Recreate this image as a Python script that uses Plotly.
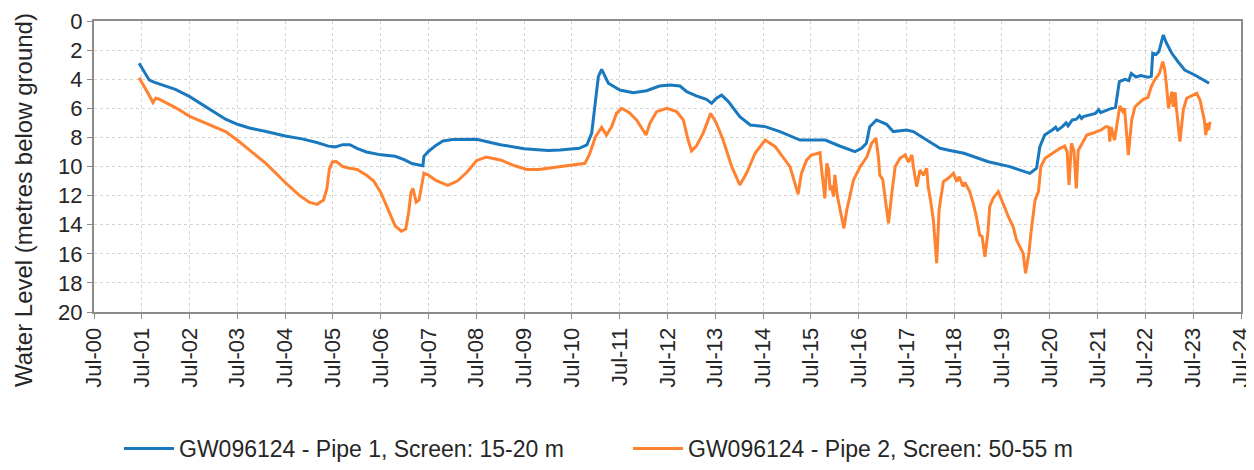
import pandas as pd
import plotly.graph_objects as go

# ---- data (decimal years, water level in metres below ground) ----
pipe1_years = [
    2001.44, 2001.55, 2001.65, 2001.75, 2002.0, 2002.2, 2002.5, 2002.75, 2003.0, 2003.25,
    2003.5, 2003.75, 2004.1, 2004.5, 2004.85, 2005.16, 2005.4, 2005.55, 2005.7, 2005.85,
    2006.0, 2006.2, 2006.5, 2006.8, 2007.0, 2007.15, 2007.3, 2007.38, 2007.4, 2007.5,
    2007.65, 2007.8, 2008.0, 2008.5, 2009.0, 2009.5, 2010.0, 2010.25, 2010.65, 2010.81,
    2010.91, 2010.98, 2011.05, 2011.12, 2011.19, 2011.26, 2011.5, 2011.78, 2012.06, 2012.33,
    2012.55, 2012.76, 2012.9, 2013.1, 2013.31, 2013.42, 2013.52, 2013.63, 2013.77, 2014.01,
    2014.23, 2014.54, 2014.85, 2015.13, 2015.27, 2015.55, 2015.8, 2016.1, 2016.42, 2016.56,
    2016.66, 2016.73, 2016.87, 2017.08, 2017.22, 2017.5, 2017.64, 2017.92, 2018.2, 2018.41,
    2018.7, 2019.21, 2019.66, 2020.08, 2020.22, 2020.29, 2020.39, 2020.55, 2020.62, 2020.66,
    2020.76, 2020.84, 2020.88, 2020.97, 2021.05, 2021.12, 2021.16, 2021.2, 2021.45, 2021.52,
    2021.56, 2021.73, 2021.87, 2021.95, 2022.07, 2022.15, 2022.2, 2022.3, 2022.4, 2022.55,
    2022.62, 2022.65, 2022.72, 2022.78, 2022.87, 2022.94, 2023.05, 2023.18, 2023.32, 2023.53,
    2023.7, 2023.83,
]
pipe1_levels = [
    2.9, 3.5, 4.05, 4.2, 4.45, 4.7, 5.2, 5.7, 6.25, 6.75,
    7.1, 7.35, 7.6, 7.9, 8.1, 8.35, 8.6, 8.65, 8.5, 8.5,
    8.75, 9.0, 9.2, 9.3, 9.55, 9.8, 9.9, 9.95, 9.3, 8.95,
    8.55, 8.25, 8.15, 8.13, 8.5, 8.78, 8.9, 8.87, 8.75, 8.52,
    7.72, 5.66, 3.83, 3.32, 3.83, 4.28, 4.74, 4.93, 4.79, 4.47,
    4.4, 4.47, 4.86, 5.15, 5.38, 5.66, 5.31, 5.09, 5.54, 6.58,
    7.15, 7.26, 7.6, 7.95, 8.18, 8.18, 8.18, 8.59, 8.98, 8.75,
    8.41, 7.26, 6.8, 7.1, 7.6, 7.49, 7.6, 8.18, 8.75, 8.9,
    9.09, 9.67, 10.01, 10.47, 10.12, 8.64, 7.84, 7.49, 7.3, 7.5,
    7.26, 7.0, 7.2, 6.8, 6.75, 6.5, 6.7, 6.57, 6.35, 6.1,
    6.3, 6.07, 5.93, 4.17, 4.01, 4.1, 3.6, 3.85, 3.75, 3.87,
    3.8, 2.22, 2.3, 2.1, 0.96, 1.53, 2.22, 2.8, 3.37, 3.71,
    4.01, 4.28,
]

pipe2_years = [
    2001.44, 2001.55, 2001.65, 2001.73, 2001.79, 2001.85, 2002.0, 2002.2, 2002.5, 2002.75,
    2003.0, 2003.25, 2003.5, 2003.8, 2004.1, 2004.5, 2004.8, 2005.0, 2005.16, 2005.3,
    2005.37, 2005.42, 2005.48, 2005.56, 2005.7, 2005.82, 2006.0, 2006.2, 2006.35, 2006.5,
    2006.65, 2006.8, 2006.93, 2007.02, 2007.08, 2007.13, 2007.17, 2007.2, 2007.24, 2007.3,
    2007.36, 2007.4, 2007.5, 2007.65, 2007.9, 2008.1, 2008.3, 2008.5, 2008.7, 2009.0,
    2009.3, 2009.55, 2009.8, 2010.25, 2010.5, 2010.77, 2010.86, 2010.99, 2011.12, 2011.22,
    2011.33, 2011.43, 2011.54, 2011.7, 2011.85, 2011.95, 2012.05, 2012.13, 2012.27, 2012.48,
    2012.69, 2012.83, 2012.93, 2013.0, 2013.1, 2013.24, 2013.4, 2013.52, 2013.66, 2013.84,
    2014.01, 2014.15, 2014.33, 2014.54, 2014.75, 2015.06, 2015.23, 2015.3, 2015.41, 2015.51,
    2015.69, 2015.7, 2015.75, 2015.79, 2015.83, 2015.87, 2015.9, 2015.93, 2015.97, 2016.0,
    2016.05, 2016.19, 2016.25, 2016.32, 2016.39, 2016.53, 2016.67, 2016.77, 2016.86, 2016.91,
    2016.94, 2017.0, 2017.08, 2017.12, 2017.19, 2017.26, 2017.36, 2017.47, 2017.54, 2017.61,
    2017.64, 2017.71, 2017.78, 2017.85, 2017.92, 2017.95, 2018.0, 2018.06, 2018.13, 2018.18,
    2018.22, 2018.27, 2018.37, 2018.48, 2018.55, 2018.6, 2018.68, 2018.72, 2018.82, 2018.9,
    2018.96, 2019.03, 2019.08, 2019.14, 2019.2, 2019.24, 2019.31, 2019.42, 2019.49, 2019.56,
    2019.63, 2019.73, 2019.8, 2019.87, 2019.94, 2019.99, 2020.06, 2020.11, 2020.19, 2020.26,
    2020.31, 2020.4, 2020.5, 2020.71, 2020.81, 2020.86, 2020.9, 2020.95, 2021.0, 2021.05,
    2021.09, 2021.17, 2021.27, 2021.4, 2021.57, 2021.67, 2021.73, 2021.75, 2021.78, 2021.85,
    2021.91, 2021.96, 2022.02, 2022.06, 2022.14, 2022.21, 2022.28, 2022.45, 2022.55, 2022.62,
    2022.69, 2022.79, 2022.86, 2022.9, 2022.94, 2022.98, 2023.05, 2023.08, 2023.12, 2023.15,
    2023.22, 2023.29, 2023.36, 2023.5, 2023.57, 2023.64, 2023.67, 2023.73, 2023.76, 2023.8,
    2023.82, 2023.85,
]
pipe2_levels = [
    3.9, 4.5, 5.1, 5.6, 5.3, 5.35, 5.6, 5.95, 6.55, 6.9,
    7.2, 7.6, 8.2, 9.0, 9.8, 11.1, 12.0, 12.45, 12.6, 12.3,
    11.5, 10.2, 9.7, 9.65, 10.0, 10.1, 10.2, 10.6, 11.0, 11.8,
    12.9, 14.1, 14.45, 14.3, 13.2, 11.8, 11.5, 12.0, 12.45, 12.3,
    11.0, 10.45, 10.6, 10.95, 11.3, 11.0, 10.4, 9.6, 9.35, 9.55,
    9.95, 10.2, 10.2, 10.0, 9.9, 9.78, 9.2, 7.95, 7.31, 7.84,
    7.26, 6.35, 6.0, 6.3, 6.8, 7.37, 7.84, 7.03, 6.23, 6.0,
    6.23, 6.8, 8.18, 8.93, 8.6, 7.72, 6.35, 7.03, 8.18, 10.01,
    11.27, 10.47, 9.09, 8.18, 8.64, 10.01, 11.9, 10.47, 9.55, 9.21,
    9.05, 9.55, 10.8, 12.19, 9.78, 10.2, 11.62, 11.3, 12.07, 10.58,
    12.0, 14.25, 12.99, 11.84, 10.93, 10.01, 9.33, 8.4, 8.06, 9.33,
    10.58, 10.9, 12.99, 13.9, 11.84, 10.01, 9.44, 9.21, 9.7, 9.21,
    10.0, 11.38, 10.24, 10.6, 10.12, 11.38, 12.3, 13.68, 16.65, 13.0,
    12.07, 11.04, 10.81, 10.47, 11.04, 10.7, 11.38, 11.1, 11.73, 12.6,
    13.45, 14.71, 14.8, 16.2, 14.59, 12.76, 12.19, 11.73, 12.3, 12.9,
    13.45, 14.14, 15.05, 15.51, 15.97, 17.34, 15.97, 14.36, 12.3, 11.73,
    10.01, 9.44, 9.21, 8.75, 8.6, 9.0, 11.27, 8.4, 8.9, 11.5,
    8.9, 8.4, 7.84, 7.7, 7.49, 7.26, 7.3, 8.29, 7.3, 8.18,
    6.69, 5.84, 6.2, 6.0, 9.21, 6.8, 5.89, 5.38, 5.25, 4.51,
    4.05, 3.6, 2.8, 3.3, 4.51, 6.0, 4.86, 5.9, 4.9, 6.12,
    8.29, 6.12, 5.31, 5.09, 4.97, 5.43, 5.9, 6.8, 7.84, 7.03,
    7.5, 6.92,
]

y_ticks = [0, 2, 4, 6, 8, 10, 12, 14, 16, 18, 20]
series_names = ["GW096124 - Pipe 1, Screen: 15-20 m", "GW096124 - Pipe 2, Screen: 50-55 m"]
y_title = "Water Level (metres below ground)"


def to_dates(decimal_years):
    out = []
    for d in decimal_years:
        yr = int(d)
        start = pd.Timestamp(year=yr, month=1, day=1)
        out.append(start + pd.Timedelta(days=(d - yr) * 365.25))
    return out


FONT = "Liberation Sans, Arial, sans-serif"
TXT = "#262626"
AXIS = "#8c8c8c"

# page body has an 8px default margin -> figure is sized/offset to compensate
W, H = 1246, 462

fig = go.Figure()
fig.add_trace(go.Scatter(x=to_dates(pipe1_years), y=pipe1_levels, mode="lines",
                         name=series_names[0], line=dict(color="#1a78be", width=3)))
fig.add_trace(go.Scatter(x=to_dates(pipe2_years), y=pipe2_levels, mode="lines",
                         name=series_names[1], line=dict(color="#ff8230", width=3)))

fig.update_layout(
    width=W, height=H,
    margin=dict(l=86, r=13, t=13, b=158),
    paper_bgcolor="white", plot_bgcolor="white",
    font=dict(family=FONT, color=TXT, size=21),
    showlegend=True,
    legend=dict(orientation="h", xref="container", yref="container",
                x=(111 / W), xanchor="left", y=0.0, yanchor="bottom",
                font=dict(size=23, color=TXT), entrywidth=444, entrywidthmode="pixels",
                itemwidth=50, bgcolor="rgba(0,0,0,0)"),
    xaxis=dict(
        type="date", automargin=False,
        range=["2000-07-01", "2024-07-01"],
        tick0="2000-07-01", dtick="M12", tickformat="%b-%y", tickangle=-90,
        ticks="outside", ticklen=5, tickcolor=AXIS,
        showline=True, linecolor=AXIS, linewidth=2, mirror=True,
        showgrid=True, gridcolor="#d4d4d4", griddash="dot", gridwidth=1,
        tickfont=dict(size=22, color=TXT), zeroline=False,
    ),
    yaxis=dict(
        automargin=False,
        range=[20, 0], tickvals=y_ticks,
        ticks="outside", ticklen=5, tickcolor=AXIS,
        showline=True, linecolor=AXIS, linewidth=2, mirror=True,
        showgrid=True, gridcolor="#d4d4d4", griddash="dot", gridwidth=1,
        tickfont=dict(size=22, color=TXT), zeroline=False,
    ),
    annotations=[dict(text=y_title, textangle=-90, xref="paper", yref="paper",
                      x=-0.061, y=0.385, xanchor="center", yanchor="middle",
                      showarrow=False, font=dict(size=24, color=TXT))],
)

fig.write_html("out.html")
